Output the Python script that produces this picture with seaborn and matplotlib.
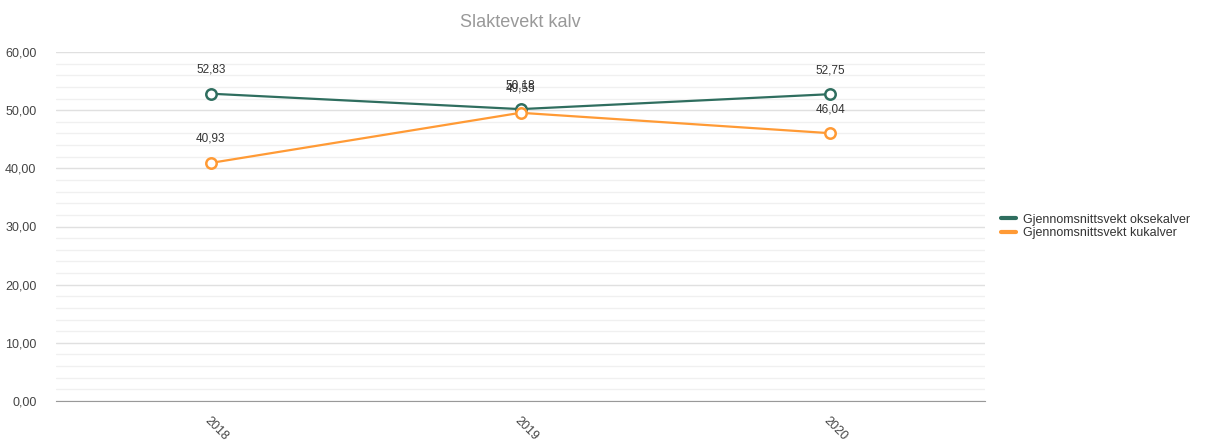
import numpy as np
import pandas as pd
import matplotlib
matplotlib.use("Agg")
import matplotlib.pyplot as plt
import seaborn as sns
from matplotlib.ticker import MultipleLocator, FuncFormatter

# data
years = ["2018", "2019", "2020"]
okse = [52.83, 50.18, 52.75]
ku = [40.93, 49.55, 46.04]
series_names = ["Gjennomsnittsvekt oksekalver", "Gjennomsnittsvekt kukalver"]
colors = ["#2f6e5f", "#ff9a35"]

df = pd.DataFrame({
    "year": years * 2,
    "vekt": okse + ku,
    "serie": [series_names[0]] * 3 + [series_names[1]] * 3,
})
df["pos"] = df["year"].map({y: i for i, y in enumerate(years)})

sns.set_style("white")
plt.rcParams["font.family"] = ["Liberation Sans", "DejaVu Sans"]

fig = plt.figure(figsize=(12.1, 4.41), dpi=100)
ax = fig.add_axes([56 / 1210, 40 / 441, (985 - 56) / 1210, (401 - 52) / 441])

sns.lineplot(data=df, x="pos", y="vekt", hue="serie", palette=colors,
             marker="o", markersize=7.5, markerfacecolor="white",
             markeredgewidth=1.8, linewidth=1.6, ax=ax, zorder=3)
for line, c in zip(ax.lines, colors):
    line.set_markeredgecolor(c)

# value labels
for vals in [okse, ku]:
    for i, v in enumerate(vals):
        ax.annotate(f"{v:.2f}".replace(".", ","), (i, v), xytext=(0, 13),
                    textcoords="offset points", ha="center", va="bottom",
                    fontsize=8.5, color="#333333")

ax.set_xlim(-0.5, 2.5)
ax.set_ylim(0, 60)
ax.yaxis.set_major_locator(MultipleLocator(10))
ax.yaxis.set_minor_locator(MultipleLocator(2))
ax.yaxis.set_major_formatter(FuncFormatter(lambda v, p: f"{v:.2f}".replace(".", ",")))
ax.grid(axis="y", which="major", color="#e0e0e0", linewidth=1)
ax.grid(axis="y", which="minor", color="#f0f0f0", linewidth=1)
ax.set_axisbelow(True)

ax.set_xticks([0, 1, 2])
ax.set_xticklabels(years, rotation=-45, ha="left", rotation_mode="anchor",
                   fontsize=9, color="#444444")
ax.set_xticks([-0.5, 0.5, 1.5, 2.5], minor=True)
ax.tick_params(axis="x", which="major", length=0, pad=10)
ax.tick_params(axis="x", which="minor", length=6, color="#999999", width=1)
ax.tick_params(axis="y", which="both", length=0, labelsize=9, labelcolor="#444444", pad=14)

for s in ["top", "right", "left"]:
    ax.spines[s].set_visible(False)
ax.spines["bottom"].set_color("#999999")

ax.set_xlabel("")
ax.set_ylabel("")
ax.set_title("Slaktevekt kalv", fontsize=13, color="#999999", pad=18)

leg = ax.legend(loc="center left", bbox_to_anchor=(1.005, 0.5), frameon=False,
                fontsize=9, handlelength=1.2, handletextpad=0.6, labelspacing=0.15)
for h in leg.legend_handles:
    h.set_marker("")
    h.set_linewidth(3)
for t in leg.get_texts():
    t.set_color("#333333")

fig.savefig("out.png", dpi=100)
